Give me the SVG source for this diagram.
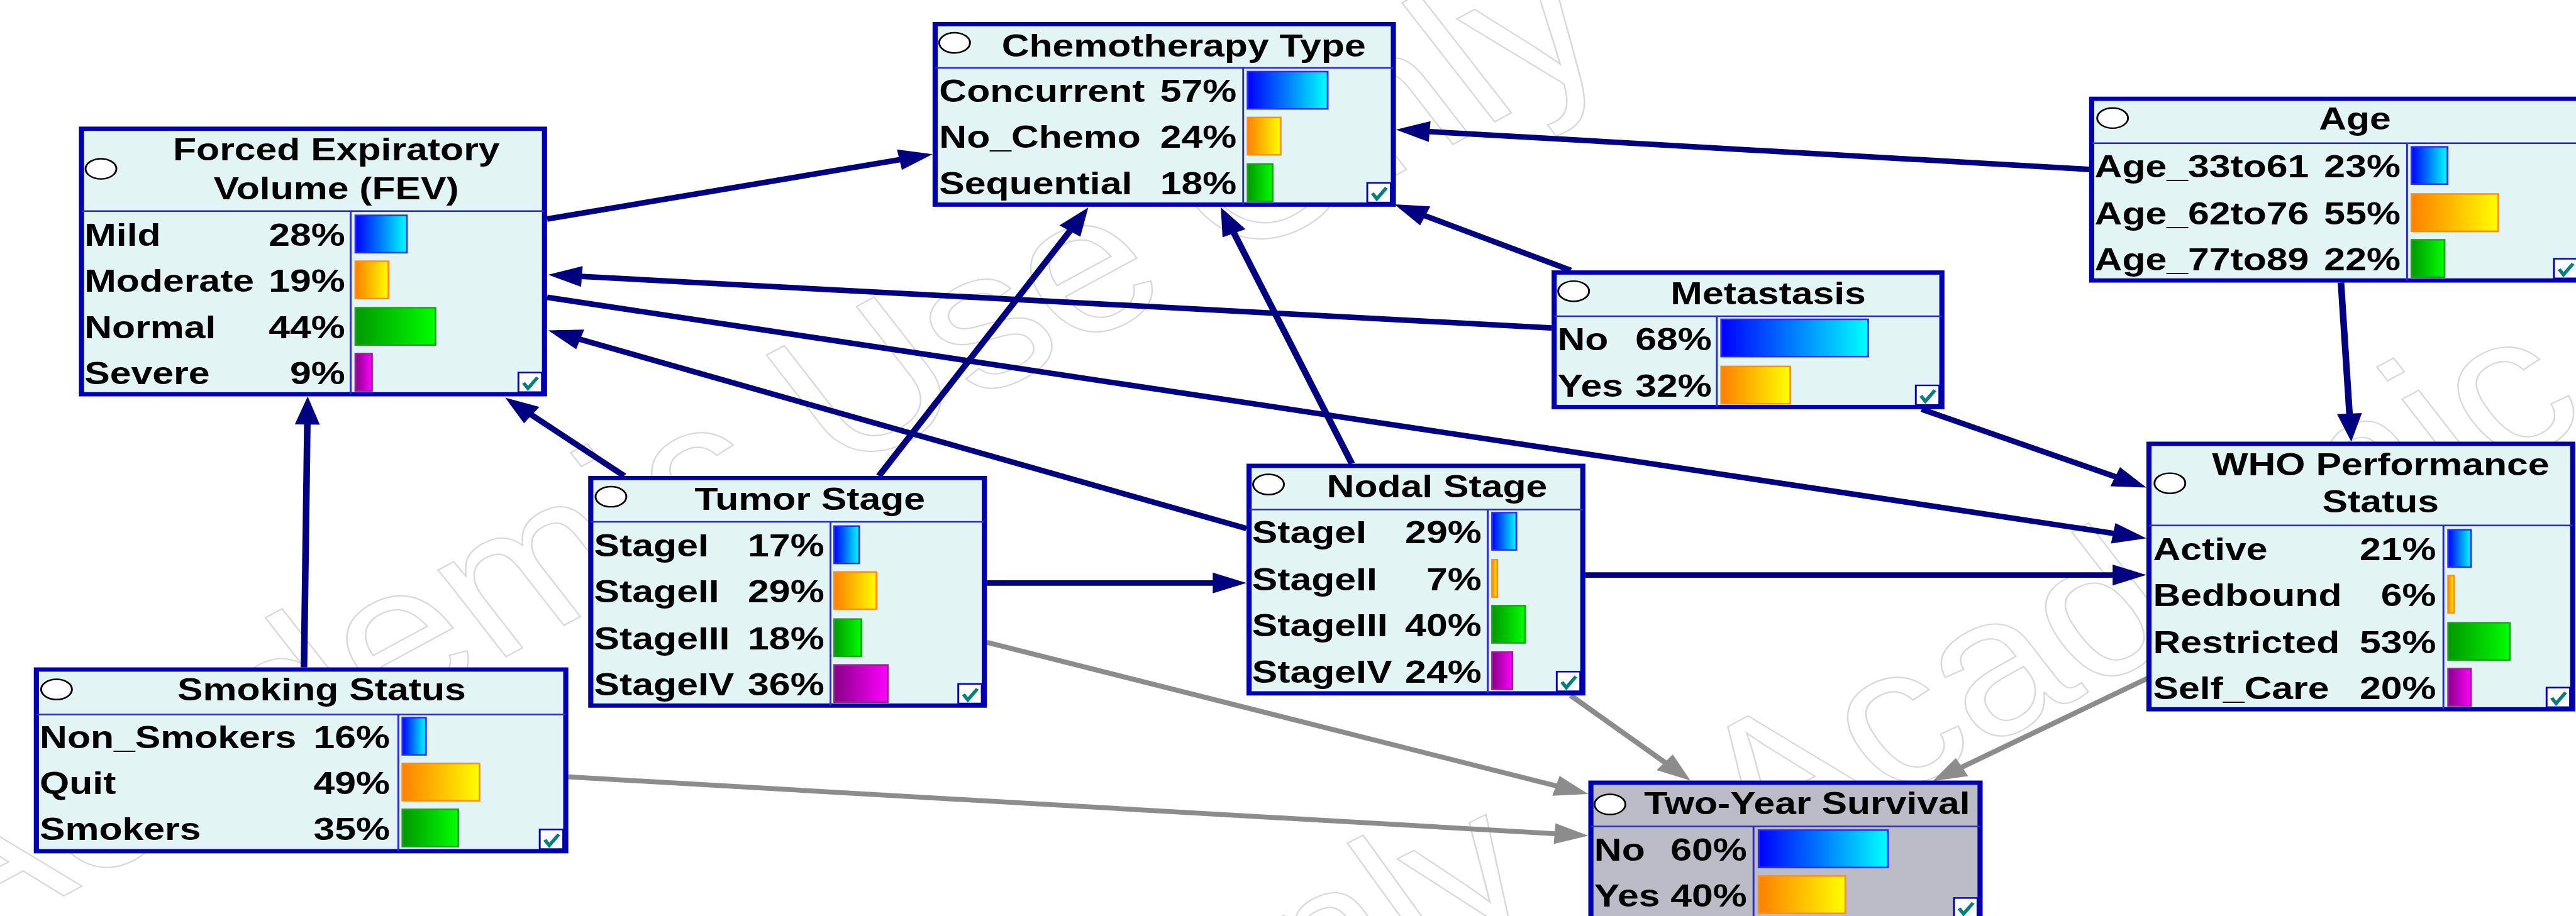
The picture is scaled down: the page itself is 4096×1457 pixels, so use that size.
<svg xmlns="http://www.w3.org/2000/svg" width="4096" height="1457" viewBox="0 0 4096 1457">
<style>
.t{font-family:"Liberation Sans",Arial,sans-serif;font-weight:bold;font-size:52px;fill:#000}
.e{text-anchor:end}
.m{text-anchor:middle}
.box{fill:#E2F4F4;stroke:#0000B0;stroke-width:7}
.box2{fill:#BCBCC8;stroke:#0000B0;stroke-width:7}
.sep{stroke:#2A2AC8;stroke-width:2.5;fill:none}
.ov{fill:#fff;stroke:#000;stroke-width:2.5}
.c{fill:none;stroke:#000080;stroke-width:9;marker-end:url(#ah)}
.g{fill:none;stroke:#8C8C8C;stroke-width:8;marker-end:url(#ahg)}
.wm{font-family:"Liberation Sans",Arial,sans-serif;font-size:320px;fill:none;stroke:#D8D8D8;stroke-width:2.2}
.b1{fill:url(#gb);stroke:#2B2BFF;stroke-width:2.5}
.b2{fill:url(#go);stroke:#FF8C1A;stroke-width:2.5}
.b3{fill:url(#gg);stroke:#20A020;stroke-width:2.5}
.b4{fill:url(#gp);stroke:#9A209A;stroke-width:2.5}
</style>
<defs>
<linearGradient id="gb"><stop offset="0" stop-color="#0000FF"/><stop offset="1" stop-color="#00FFFF"/></linearGradient>
<linearGradient id="go"><stop offset="0" stop-color="#FF8000"/><stop offset="1" stop-color="#FFFF00"/></linearGradient>
<linearGradient id="gg"><stop offset="0" stop-color="#009900"/><stop offset="1" stop-color="#00FF00"/></linearGradient>
<linearGradient id="gp"><stop offset="0" stop-color="#880088"/><stop offset="1" stop-color="#FF00FF"/></linearGradient>
<marker id="ah" markerUnits="userSpaceOnUse" markerWidth="46" markerHeight="34" refX="34" refY="17" orient="auto" overflow="visible"><path d="M0,0 L46,17 L0,34 z" fill="#000080"/></marker>
<marker id="ahg" markerUnits="userSpaceOnUse" markerWidth="46" markerHeight="34" refX="34" refY="17" orient="auto" overflow="visible"><path d="M0,0 L46,17 L0,34 z" fill="#8C8C8C"/></marker>
<g id="chk"><rect x="0" y="0" width="32" height="32" fill="#fff" stroke="#0000B0" stroke-width="2.5"/><path d="M7,17 L13,26 L26,8" fill="none" stroke="#008080" stroke-width="5"/></g>
</defs>
<rect x="0" y="0" width="4096" height="1457" fill="#fff"/>
<g transform="scale(1.1676,0.973)">
<g id="watermark" class="wm">
<text transform="translate(-60,1560) rotate(-33)" textLength="2700" lengthAdjust="spacingAndGlyphs">Academic Use Only</text>
<text transform="translate(-40,2750) rotate(-31)" font-size="290" textLength="2500" lengthAdjust="spacingAndGlyphs">Academic Use Only</text>
<text transform="translate(2400,1420) rotate(-33)" textLength="2700" lengthAdjust="spacingAndGlyphs">Academic Use Only</text>
</g>
<g id="connectors">
<path class="c" d="M745,358 L1258.2,254.4"/>
<path class="c" d="M2847,277 L1913,212.8"/>
<path class="c" d="M2139,442 L1909.9,338.9"/>
<path class="c" d="M2113,536 L758.5,449.8"/>
<path class="c" d="M850,778 L697.4,657.4"/>
<path class="c" d="M1197,778 L1475.5,349.1"/>
<path class="c" d="M1697.5,864 L757.9,543.9"/>
<path class="c" d="M1841,758 L1667.2,350"/>
<path class="c" d="M745,486 L2911.2,877.9"/>
<path class="c" d="M2617,669 L2911.9,792.4"/>
<path class="c" d="M3188,462 L3201.4,710"/>
<path class="c" d="M1344,953 L1685.5,953"/>
<path class="c" d="M2159,940 L2911,940"/>
<path class="c" d="M414,1091 L418.9,660"/>
<path class="g" d="M1344,1050 L2151.5,1294.5"/>
<path class="g" d="M774,1270 L2151,1365.2"/>
<path class="g" d="M2139,1137 L2292.9,1268.2"/>
<path class="g" d="M2926,1108 L2642.4,1271"/>
</g>
<g id="node-fev">
<rect class="box" x="111" y="210.5" width="630.5" height="434"/>
<path class="sep" d="M111,345 H741.5 M477.5,345 V644.5"/>
<ellipse class="ov" cx="137.5" cy="276" rx="21" ry="16.5"/>
<text class="t m" x="458" y="262">Forced Expiratory</text>
<text class="t m" x="458" y="326">Volume (FEV)</text>
<text class="t" x="115" y="402">Mild</text><text class="t e" x="470" y="402">28%</text>
<text class="t" x="115" y="477">Moderate</text><text class="t e" x="470" y="477">19%</text>
<text class="t" x="115" y="553">Normal</text><text class="t e" x="470" y="553">44%</text>
<text class="t" x="115" y="628">Severe</text><text class="t e" x="470" y="628">9%</text>
<rect class="b1" x="484" y="352" width="70" height="61"/>
<rect class="b2" x="484" y="427" width="45" height="61"/>
<rect class="b3" x="484" y="503" width="109" height="61"/>
<rect class="b4" x="484" y="578" width="22.5" height="61"/>
<use href="#chk" x="706" y="609"/>
</g>
<g id="node-chemo">
<rect class="box" x="1273.5" y="39.5" width="624" height="295"/>
<path class="sep" d="M1273.5,111 H1897.5 M1693,111 V334.5"/>
<ellipse class="ov" cx="1300" cy="70" rx="21" ry="16.5"/>
<text class="t m" x="1612" y="92">Chemotherapy Type</text>
<text class="t" x="1279" y="167">Concurrent</text><text class="t e" x="1684" y="167">57%</text>
<text class="t" x="1279" y="242">No_Chemo</text><text class="t e" x="1684" y="242">24%</text>
<text class="t" x="1279" y="318">Sequential</text><text class="t e" x="1684" y="318">18%</text>
<rect class="b1" x="1699" y="117" width="109" height="61"/>
<rect class="b2" x="1699" y="192" width="45" height="61"/>
<rect class="b3" x="1699" y="268" width="34" height="61"/>
<use href="#chk" x="1862" y="299"/>
</g>
<g id="node-age">
<rect class="box" x="2848.5" y="161.5" width="665" height="297"/>
<path class="sep" d="M2848.5,234 H3513.5 M3278,234 V458.5"/>
<ellipse class="ov" cx="2877" cy="193" rx="21" ry="16.5"/>
<text class="t m" x="3207" y="212">Age</text>
<text class="t" x="2852.5" y="290">Age_33to61</text><text class="t e" x="3269" y="290">23%</text>
<text class="t" x="2852.5" y="367">Age_62to76</text><text class="t e" x="3269" y="367">55%</text>
<text class="t" x="2852.5" y="442">Age_77to89</text><text class="t e" x="3269" y="442">22%</text>
<rect class="b1" x="3284" y="240" width="49" height="61"/>
<rect class="b2" x="3284" y="317" width="118" height="61"/>
<rect class="b3" x="3284" y="392" width="45" height="61"/>
<use href="#chk" x="3478" y="423"/>
</g>
<g id="node-metastasis">
<rect class="box" x="2116.5" y="445.5" width="528" height="220"/>
<path class="sep" d="M2116.5,517 H2644.5 M2338,517 V665.5"/>
<ellipse class="ov" cx="2143" cy="476" rx="21" ry="16.5"/>
<text class="t m" x="2408" y="497">Metastasis</text>
<text class="t" x="2121" y="572">No</text><text class="t e" x="2331" y="572">68%</text>
<text class="t" x="2121" y="649">Yes</text><text class="t e" x="2331" y="649">32%</text>
<rect class="b1" x="2344" y="522" width="200" height="61"/>
<rect class="b2" x="2344" y="599" width="94" height="61"/>
<use href="#chk" x="2609" y="630"/>
</g>
<g id="node-who">
<rect class="box" x="2926.5" y="725.5" width="577" height="434"/>
<path class="sep" d="M2926.5,859 H3503.5 M3327.5,859 V1159.5"/>
<ellipse class="ov" cx="2955" cy="790" rx="21" ry="16.5"/>
<text class="t m" x="3242" y="777">WHO Performance</text>
<text class="t m" x="3242" y="838">Status</text>
<text class="t" x="2932" y="916">Active</text><text class="t e" x="3317.5" y="916">21%</text>
<text class="t" x="2932" y="991">Bedbound</text><text class="t e" x="3317.5" y="991">6%</text>
<text class="t" x="2932" y="1068">Restricted</text><text class="t e" x="3317.5" y="1068">53%</text>
<text class="t" x="2932" y="1143">Self_Care</text><text class="t e" x="3317.5" y="1143">20%</text>
<rect class="b1" x="3334" y="866" width="31" height="61"/>
<rect class="b2" x="3334" y="941" width="8" height="61"/>
<rect class="b3" x="3334" y="1018" width="84" height="61"/>
<rect class="b4" x="3334" y="1093" width="31" height="61"/>
<use href="#chk" x="3468" y="1124"/>
</g>
<g id="node-tumor">
<rect class="box" x="804.5" y="781.5" width="536" height="372"/>
<path class="sep" d="M804.5,853 H1340.5 M1131,853 V1153.5"/>
<ellipse class="ov" cx="832" cy="812" rx="21" ry="16.5"/>
<text class="t m" x="1103" y="834">Tumor Stage</text>
<text class="t" x="809" y="910">StageI</text><text class="t e" x="1122.5" y="910">17%</text>
<text class="t" x="809" y="985">StageII</text><text class="t e" x="1122.5" y="985">29%</text>
<text class="t" x="809" y="1062">StageIII</text><text class="t e" x="1122.5" y="1062">18%</text>
<text class="t" x="809" y="1137">StageIV</text><text class="t e" x="1122.5" y="1137">36%</text>
<rect class="b1" x="1136" y="860" width="34" height="61"/>
<rect class="b2" x="1136" y="935" width="57.5" height="61"/>
<rect class="b3" x="1136" y="1012" width="37" height="61"/>
<rect class="b4" x="1136" y="1087" width="73" height="61"/>
<use href="#chk" x="1305" y="1118"/>
</g>
<g id="node-nodal">
<rect class="box" x="1701" y="761.5" width="454.5" height="372"/>
<path class="sep" d="M1701,833 H2155.5 M2026,833 V1133.5"/>
<ellipse class="ov" cx="1727.5" cy="792" rx="21" ry="16.5"/>
<text class="t m" x="1957" y="813">Nodal Stage</text>
<text class="t" x="1705" y="888">StageI</text><text class="t e" x="2017.5" y="888">29%</text>
<text class="t" x="1705" y="965">StageII</text><text class="t e" x="2017.5" y="965">7%</text>
<text class="t" x="1705" y="1040">StageIII</text><text class="t e" x="2017.5" y="1040">40%</text>
<text class="t" x="1705" y="1116">StageIV</text><text class="t e" x="2017.5" y="1116">24%</text>
<rect class="b1" x="2032" y="838" width="33" height="61"/>
<rect class="b2" x="2032" y="915" width="7" height="61"/>
<rect class="b3" x="2032" y="990" width="45" height="61"/>
<rect class="b4" x="2032" y="1066" width="27.5" height="61"/>
<use href="#chk" x="2120" y="1098"/>
</g>
<g id="node-smoking">
<rect class="box" x="49.5" y="1094.5" width="721" height="297"/>
<path class="sep" d="M49.5,1168 H770.5 M542.5,1168 V1391.5"/>
<ellipse class="ov" cx="77" cy="1127" rx="21" ry="16.5"/>
<text class="t m" x="438" y="1145">Smoking Status</text>
<text class="t" x="54" y="1223">Non_Smokers</text><text class="t e" x="531" y="1223">16%</text>
<text class="t" x="54" y="1298">Quit</text><text class="t e" x="531" y="1298">49%</text>
<text class="t" x="54" y="1373">Smokers</text><text class="t e" x="531" y="1373">35%</text>
<rect class="b1" x="548" y="1173" width="32" height="61"/>
<rect class="b2" x="548" y="1248" width="105" height="61"/>
<rect class="b3" x="548" y="1323" width="76" height="61"/>
<use href="#chk" x="735" y="1356"/>
</g>
<g id="node-survival">
<rect class="box2" x="2166.5" y="1279.5" width="530" height="224"/>
<path class="sep" d="M2166.5,1351 H2696.5 M2388,1351 V1503.5"/>
<ellipse class="ov" cx="2192.5" cy="1315" rx="21" ry="16.5"/>
<text class="t m" x="2461" y="1331">Two-Year Survival</text>
<text class="t" x="2171" y="1407">No</text><text class="t e" x="2379" y="1407">60%</text>
<text class="t" x="2171" y="1482">Yes</text><text class="t e" x="2379" y="1482">40%</text>
<rect class="b1" x="2395" y="1357" width="176" height="61"/>
<rect class="b2" x="2395" y="1432" width="118" height="61"/>
<use href="#chk" x="2661" y="1468"/>
</g>
</g>
</svg>
